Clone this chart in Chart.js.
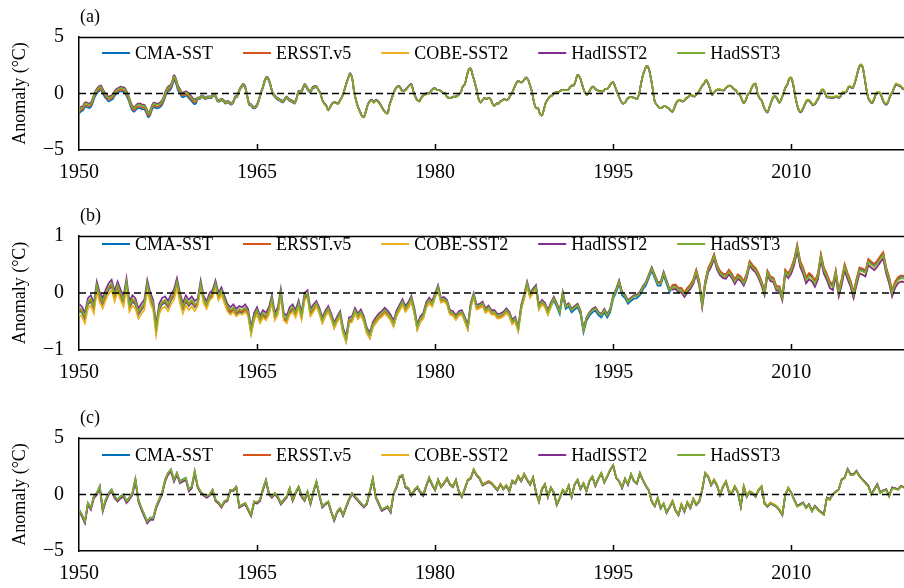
<!DOCTYPE html>
<html><head><meta charset="utf-8"><title>SST anomaly comparison</title>
<script src="https://cdn.jsdelivr.net/npm/chart.js@4.4.1/dist/chart.umd.min.js"></script>
<style>
html,body{margin:0;padding:0;background:#fff;}
body{width:904px;height:588px;position:relative;overflow:hidden;}
canvas{position:absolute;left:0;}
</style></head><body>
<canvas id="pa" width="904" height="200" style="top:0px"></canvas>
<canvas id="pb" width="904" height="200" style="top:199px"></canvas>
<canvas id="pc" width="904" height="187" style="top:401px"></canvas>
<script>
// ---------- data ----------
const seriesNames = ['CMA-SST', 'ERSST.v5', 'COBE-SST2', 'HadISST2', 'HadSST3'];
const seriesColors = ['#0072BD', '#D95319', '#EDB120', '#7E2F8E', '#77AC30'];
const xTickYears = [1950, 1965, 1980, 1995, 2010];
const xTickLabels = ['1950', '1965', '1980', '1995', '2010'];
const yTicksA = [-5, 0, 5];
const yTicksB = [-1, 0, 1];
const yTicksC = [-5, 0, 5];
const startYear = 1950;
const endYear = 2019.5;
const stepsA = 6;   // values per year in panel (a)
const stepsBC = 4;  // values per year in panels (b) and (c)
const zeroLine = [0, 0];

// panel (a): base series (HadSST3), 6 values per year from Jan 1950
const baseA = [
-1.5,-1.3,-1.2,-0.9,-0.9,-1.0, -0.9,-0.5,0.0,0.3,0.5,0.6, 0.3,0.0,-0.2,-0.4,-0.3,-0.2, 0.1,0.3,0.4,0.5,0.45,0.4,
0.1,-0.3,-0.8,-1.2,-1.3,-1.1, -1.0,-1.0,-1.1,-1.1,-1.4,-1.8, -1.6,-1.1,-0.9,-1.0,-1.0,-0.9, -0.7,-0.3,0.2,0.5,0.6,0.9,
1.5,1.2,0.6,0.3,0.0,0.0, 0.1,0.0,-0.2,-0.4,-0.6,-0.6, -0.4,-0.4,-0.2,-0.3,-0.4,-0.3, -0.3,-0.3,-0.1,-0.2,-0.6,-0.6,
-0.5,-0.6,-0.8,-0.7,-0.8,-0.9, -0.7,-0.3,-0.2,0.3,0.6,0.8, 0.6,-0.2,-0.9,-1.0,-1.2,-1.2, -1.0,-0.5,0.1,0.6,1.2,1.45,
1.2,0.6,0.0,-0.2,-0.4,-0.5, -0.6,-0.7,-0.5,-0.3,-0.5,-0.6, -0.7,-0.8,-0.4,0.2,0.1,0.4, 0.8,0.6,0.3,0.2,0.5,0.6,
0.6,0.3,0.0,-0.6,-0.9,-1.1, -1.5,-1.2,-0.9,-0.8,-0.85,-0.9, -0.6,-0.3,0.2,0.8,1.3,1.75, 1.4,0.2,-0.6,-1.2,-1.6,-2.0,
-2.1,-1.6,-1.0,-0.7,-0.6,-0.8, -0.6,-0.7,-0.9,-1.2,-1.5,-1.7, -1.75,-1.0,-0.5,0.0,0.4,0.6, 0.6,0.3,0.2,0.3,0.5,0.7,
0.8,0.2,-0.3,-0.6,-0.7,-0.4, -0.2,-0.1,0.0,0.0,0.2,0.4, 0.45,0.3,0.3,0.2,0.05,0.0, -0.3,-0.4,-0.4,-0.3,-0.3,-0.25,
-0.1,0.1,0.6,0.8,1.5,2.1, 2.2,1.6,1.0,0.3,-0.5,-0.8, -0.6,-0.4,-0.5,-0.4,-0.5,-0.9, -1.1,-0.9,-0.9,-0.7,-0.6,-0.5,
-0.6,-0.5,-0.2,0.1,0.5,0.9, 1.1,1.0,1.0,1.2,1.4,1.2, 0.7,0.1,-0.8,-1.3,-1.3,-1.8, -1.95,-1.4,-0.8,-0.5,-0.3,-0.2,
0.0,0.1,0.1,0.2,0.3,0.3, 0.3,0.3,0.5,0.7,0.7,1.1, 1.65,1.5,1.0,0.4,0.0,-0.1, 0.2,0.5,0.6,0.4,0.3,0.2,
0.2,0.2,0.4,0.4,0.6,0.9, 1.0,0.6,0.1,-0.3,-0.7,-0.9, -0.8,-0.5,-0.35,-0.3,-0.35,-0.4, -0.5,-0.1,0.8,1.6,2.1,2.45,
2.2,1.4,0.4,-0.7,-1.0,-1.2, -1.3,-1.2,-1.1,-1.2,-1.3,-1.5, -1.6,-1.2,-0.8,-0.6,-0.6,-0.7, -0.6,-0.4,-0.3,-0.1,-0.2,-0.25,
-0.1,0.1,0.4,0.7,0.9,1.2, 0.9,0.4,-0.1,0.1,0.3,0.35, 0.35,0.3,0.3,0.5,0.65,0.7, 0.6,0.4,0.3,0.0,-0.1,-0.5,
-0.85,-0.6,-0.1,0.1,0.5,0.8, 0.85,0.0,-0.4,-0.6,-1.1,-1.5, -1.65,-1.2,-0.7,-0.3,-0.25,-0.5, -0.8,-0.5,0.0,0.5,0.8,1.3,
1.4,0.8,-0.2,-1.0,-1.5,-1.6, -1.3,-0.9,-0.6,-0.6,-0.8,-1.0, -0.9,-0.6,-0.3,0.2,0.35,0.1, -0.3,-0.3,-0.35,-0.35,-0.3,-0.25,
-0.35,-0.2,0.1,0.1,0.2,0.6, 0.6,0.5,0.9,1.5,2.2,2.55, 2.4,1.5,0.4,-0.4,-0.7,-0.8, -0.4,0.0,0.1,0.0,-0.4,-0.8,
-0.95,-0.7,-0.2,0.1,0.5,0.85, 0.75,0.7,0.5,0.4
];

// panel (b): base series, 4 values per year from Jan 1950
const baseB = [
-0.25,-0.30,-0.41,-0.15, -0.10,-0.24,0.14,-0.05, -0.15,0.00,0.11,0.17, -0.03,0.14,0.00,-0.12,
0.20,-0.21,-0.10,-0.15, -0.33,-0.25,-0.18,0.17, -0.05,-0.18,-0.62,-0.25, -0.15,-0.12,-0.20,-0.08,
0.00,0.20,-0.05,-0.24, -0.10,-0.18,-0.12,-0.20, -0.15,0.17,-0.10,-0.20, -0.05,0.00,0.17,-0.05,
0.05,-0.10,-0.24,-0.30, -0.25,-0.33,-0.28,-0.30, -0.25,-0.33,-0.65,-0.40, -0.30,-0.45,-0.35,-0.40,
-0.30,-0.09,-0.40,-0.30, 0.02,-0.40,-0.45,-0.30, -0.25,-0.35,-0.18,-0.39, -0.05,0.00,-0.33,-0.25,
-0.18,-0.30,-0.47,-0.35, -0.27,-0.40,-0.56,-0.45, -0.36,-0.65,-0.80,-0.47, -0.45,-0.30,-0.40,-0.33,
-0.45,-0.65,-0.74,-0.55, -0.47,-0.40,-0.36,-0.30, -0.35,-0.42,-0.53,-0.35, -0.25,-0.15,-0.27,-0.20,
-0.09,-0.30,-0.59,-0.45, -0.39,-0.20,-0.12,-0.18, -0.03,0.11,-0.12,-0.10, -0.15,-0.33,-0.35,-0.42,
-0.35,-0.33,-0.45,-0.59, -0.20,-0.03,-0.24,-0.22, -0.18,-0.30,-0.25,-0.33, -0.33,-0.40,-0.39,-0.36,
-0.30,-0.36,-0.50,-0.45, -0.62,-0.24,-0.05,0.17, -0.03,0.05,0.11,-0.24, -0.15,-0.20,-0.33,-0.20,
-0.09,-0.20,-0.33,0.00, -0.24,-0.20,-0.30,-0.25, -0.21,-0.33,-0.65,-0.45, -0.36,-0.30,-0.27,-0.35,
-0.39,-0.30,-0.39,-0.30, -0.06,0.05,0.20,0.00, -0.05,-0.15,-0.10,-0.06, -0.05,0.00,0.10,0.17,
0.30,0.43,0.30,0.17, 0.17,0.35,0.20,0.05, 0.10,0.11,0.05,0.05, -0.03,0.05,0.11,0.20,
0.37,0.17,-0.21,0.17, 0.40,0.50,0.64,0.45, 0.35,0.30,0.29,0.37, 0.30,0.20,0.29,0.25,
0.17,0.30,0.52,0.45, 0.40,0.30,0.17,0.00, 0.35,0.25,0.23,0.08, 0.08,-0.09,0.37,0.30,
0.40,0.55,0.80,0.52, 0.40,0.23,0.30,0.26, 0.17,0.30,0.64,0.40, 0.29,0.15,0.11,0.35,
0.00,0.20,0.46,0.30, 0.17,-0.03,0.20,0.40, 0.38,0.35,0.55,0.50, 0.46,0.52,0.60,0.67,
0.40,0.23,0.00,0.15, 0.23,0.26,0.25
];

// panel (c): base series, 4 values per year from Jan 1950
const baseC = [
-1.36,-1.80,-2.40,-0.77, -1.21,-0.18,0.10,0.70, -1.36,-0.47,0.10,0.41, -0.18,-0.47,-0.20,-0.03,
-0.62,-0.30,0.12,1.35, -0.47,-1.20,-1.80,-2.40, -2.10,-2.09,-1.06,-0.47, 0.12,1.28,1.88,2.18,
1.28,1.88,1.14,1.30, 1.44,0.41,0.70,2.03, 0.70,0.26,0.00,-0.18, 0.00,0.41,-0.47,-0.70,
-1.06,-0.60,-0.47,0.41, 0.41,0.70,-1.06,-0.90, -0.77,-1.30,-1.80,-0.62, -0.70,-0.47,0.50,1.28,
0.10,-0.18,0.12,-0.20, -0.77,-0.47,-0.18,0.56, -0.47,0.20,0.70,-0.10, -0.47,0.26,-0.77,0.30,
1.14,-0.03,-1.06,-0.80, -0.62,-1.50,-2.24,-1.50, -1.21,-1.80,-1.06,-0.40, 0.12,-0.18,-0.47,-0.77,
-1.06,-0.77,0.30,1.40, -0.18,-0.77,-1.36,-1.20, -1.06,-1.50,0.10,0.70, 1.59,1.73,0.70,0.56,
-0.03,0.40,0.70,0.26, -0.03,0.80,1.50,0.90, 0.41,1.28,0.70,1.00, 1.44,0.90,0.70,1.28,
0.26,-0.18,0.50,1.28, 1.44,2.20,1.70,1.44, 0.85,1.00,1.14,1.00, 0.70,0.41,0.90,0.50,
0.80,0.30,1.20,1.00, 1.60,1.20,1.80,1.30, 0.90,1.50,0.20,-0.60, 0.50,0.90,-0.20,0.60,
0.20,-0.90,-0.30,0.40, 0.10,0.80,-0.20,0.90, 1.30,0.50,1.00,0.30, 1.20,1.60,0.80,1.40,
1.90,1.10,1.60,2.20, 2.60,1.50,1.20,0.60, 1.40,0.90,1.80,1.20, 1.00,1.90,1.30,0.80,
0.40,-0.60,-1.00,-0.30, -1.20,-0.80,-1.60,-1.10, -0.60,-1.40,-1.80,-0.90, -1.50,-0.70,-1.20,-0.40,
-0.90,-0.62,0.41,1.88, 1.60,0.85,1.28,0.80, -0.03,0.70,1.14,0.26, 0.12,0.70,0.20,-1.06,
0.70,-0.18,0.26,0.10, -0.18,0.40,0.70,-0.77, -1.06,-0.77,-0.90,-1.06, -1.36,-1.80,-0.03,0.56,
0.12,-0.50,-1.06,-0.92, -0.77,-1.21,-0.92,-1.50, -1.06,-1.36,-1.60,-1.80, -0.33,-0.47,-0.03,0.20,
0.41,1.28,1.44,2.20, 1.73,1.73,2.03,1.59, 1.28,1.00,0.70,-0.03, 0.41,0.85,0.12,0.30,
0.41,-0.18,0.56,0.50, 0.41,0.70,0.60
];

// per-decade differences of each product from the base series (1950s ... 2010s)
const offsetsA = [
  [-0.30, -0.10, 0.00, 0.00, 0.00, 0.00, -0.03],
  [-0.15, -0.05, 0.00, 0.00, 0.00, 0.00, 0.00],
  [0.10, 0.00, 0.00, 0.02, 0.00, 0.03, 0.05],
  [0.10, 0.05, 0.05, 0.02, 0.00, -0.03, -0.05],
  [0, 0, 0, 0, 0, 0, 0]
];
const offsetsB = [
  [-0.05, -0.05, -0.05, -0.04, -0.04, 0.03, 0.03],
  [-0.03, -0.03, -0.03, -0.03, 0.00, 0.04, 0.05],
  [-0.12, -0.08, -0.06, -0.05, 0.02, -0.03, -0.05],
  [0.06, 0.05, 0.04, 0.03, 0.02, -0.04, -0.06],
  [0, 0, 0, 0, 0, 0, 0]
];
const offsetsC = [
  [0.05, 0.00, 0.00, 0.00, 0.00, 0.00, 0.05],
  [-0.05, 0.00, 0.00, 0.05, 0.00, 0.05, 0.05],
  [0.00, -0.10, -0.05, -0.05, 0.00, 0.05, 0.00],
  [-0.15, -0.10, -0.10, -0.05, -0.05, -0.05, 0.05],
  [0, 0, 0, 0, 0, 0, 0]
];

// ---------- rendering ----------
const FONT = '"Liberation Serif", "Times New Roman", serif';
Chart.defaults.font.family = FONT;
Chart.defaults.color = '#000';

function buildSeries(base, steps, offs) {
  return base.map((v, i) => {
    const x = startYear + i / steps;
    const d = Math.min(offs.length - 1, Math.floor((x - startYear) / 10));
    return { x: x, y: Math.round((v + offs[d]) * 100) / 100 };
  });
}

const framePlugin = {
  id: 'frame',
  afterDatasetsDraw(chart) {
    const ctx = chart.ctx, a = chart.chartArea, xs = chart.scales.x;
    ctx.save();
    ctx.strokeStyle = '#000';
    ctx.lineWidth = 1.5;
    ctx.beginPath();
    ctx.moveTo(a.left, a.top + 0.5);
    ctx.lineTo(a.right, a.top + 0.5);
    xTickYears.slice(1).forEach(v => {
      const px = Math.round(xs.getPixelForValue(v)) + 0.5;
      ctx.moveTo(px, a.bottom);
      ctx.lineTo(px, a.bottom - 6);
    });
    ctx.stroke();
    ctx.restore();
  },
  afterDraw(chart, args, opts) {
    const ctx = chart.ctx, a = chart.chartArea;
    ctx.save();
    ctx.font = '18px ' + FONT;
    ctx.textBaseline = 'middle';
    ctx.textAlign = 'left';
    ctx.fillStyle = '#000';
    ctx.fillText(opts.tag, a.left + 1, a.top - 20);
    let x = a.left + opts.startX;
    const y = a.top + opts.dy;
    chart.data.datasets.forEach(ds => {
      if (seriesNames.indexOf(ds.label) < 0) return;
      ctx.strokeStyle = ds.borderColor;
      ctx.lineWidth = 2;
      ctx.beginPath();
      ctx.moveTo(x, y);
      ctx.lineTo(x + 28, y);
      ctx.stroke();
      ctx.fillStyle = '#000';
      ctx.fillText(ds.label, x + 33, y + 1);
      x += 33 + ctx.measureText(ds.label).width + 30;
    });
    ctx.restore();
  }
};

function makePanel(id, tag, base, steps, offsets, yTicks, plotBottom, legendDy, tension) {
  const canvas = document.getElementById(id);
  const H = canvas.height;
  const datasets = seriesNames.map((name, k) => ({
    label: name,
    data: buildSeries(base, steps, offsets[k]),
    borderColor: seriesColors[k],
    backgroundColor: seriesColors[k],
    borderWidth: 1.7,
    pointRadius: 0,
    tension: tension,
    fill: false,
    order: 10 - k
  }));
  datasets.push({
    label: 'zero',
    data: [{ x: startYear, y: zeroLine[0] }, { x: endYear, y: zeroLine[1] }],
    borderColor: '#000',
    borderWidth: 1.5,
    borderDash: [7, 4],
    pointRadius: 0,
    fill: false,
    order: 0
  });
  return new Chart(canvas, {
    type: 'line',
    data: { datasets: datasets },
    plugins: [framePlugin],
    options: {
      responsive: false,
      animation: false,
      events: [],
      layout: { padding: { top: 37, left: 0, right: 0, bottom: 0 } },
      plugins: {
        legend: { display: false },
        tooltip: { enabled: false },
        frame: { tag: tag, startX: 23, dy: legendDy }
      },
      scales: {
        x: {
          type: 'linear',
          min: startYear,
          max: endYear,
          afterBuildTicks: s => { s.ticks = xTickYears.map(v => ({ value: v })); },
          afterFit: s => { s.height = H - plotBottom; },
          grid: { display: false, drawTicks: false },
          border: { display: true, color: '#000', width: 1.5 },
          ticks: {
            font: { size: 20, family: FONT }, color: '#000', padding: 11,
            maxRotation: 0, autoSkip: false,
            callback: v => { const i = xTickYears.indexOf(v); return i >= 0 ? xTickLabels[i] : ''; }
          }
        },
        y: {
          type: 'linear',
          min: yTicks[0],
          max: yTicks[yTicks.length - 1],
          afterBuildTicks: s => { s.ticks = yTicks.map(v => ({ value: v })); },
          afterFit: s => { s.width = 79; },
          grid: { display: false, drawTicks: false },
          border: { display: true, color: '#000', width: 1.5 },
          ticks: {
            font: { size: 20, family: FONT }, color: '#000', padding: 15,
            callback: v => (v < 0 ? '\u2212' + Math.abs(v) : String(v))
          },
          title: {
            display: true, text: 'Anomaly (°C)',
            font: { size: 18, family: FONT }, color: '#000',
            padding: { top: 9, bottom: 0 }
          }
        }
      }
    }
  });
}

makePanel('pa', '(a)', baseA, stepsA, offsetsA, yTicksA, 150, 16, 0.35);
makePanel('pb', '(b)', baseB, stepsBC, offsetsB, yTicksB, 151, 8, 0);
makePanel('pc', '(c)', baseC, stepsBC, offsetsC, yTicksC, 150, 17, 0);
</script></body></html>
